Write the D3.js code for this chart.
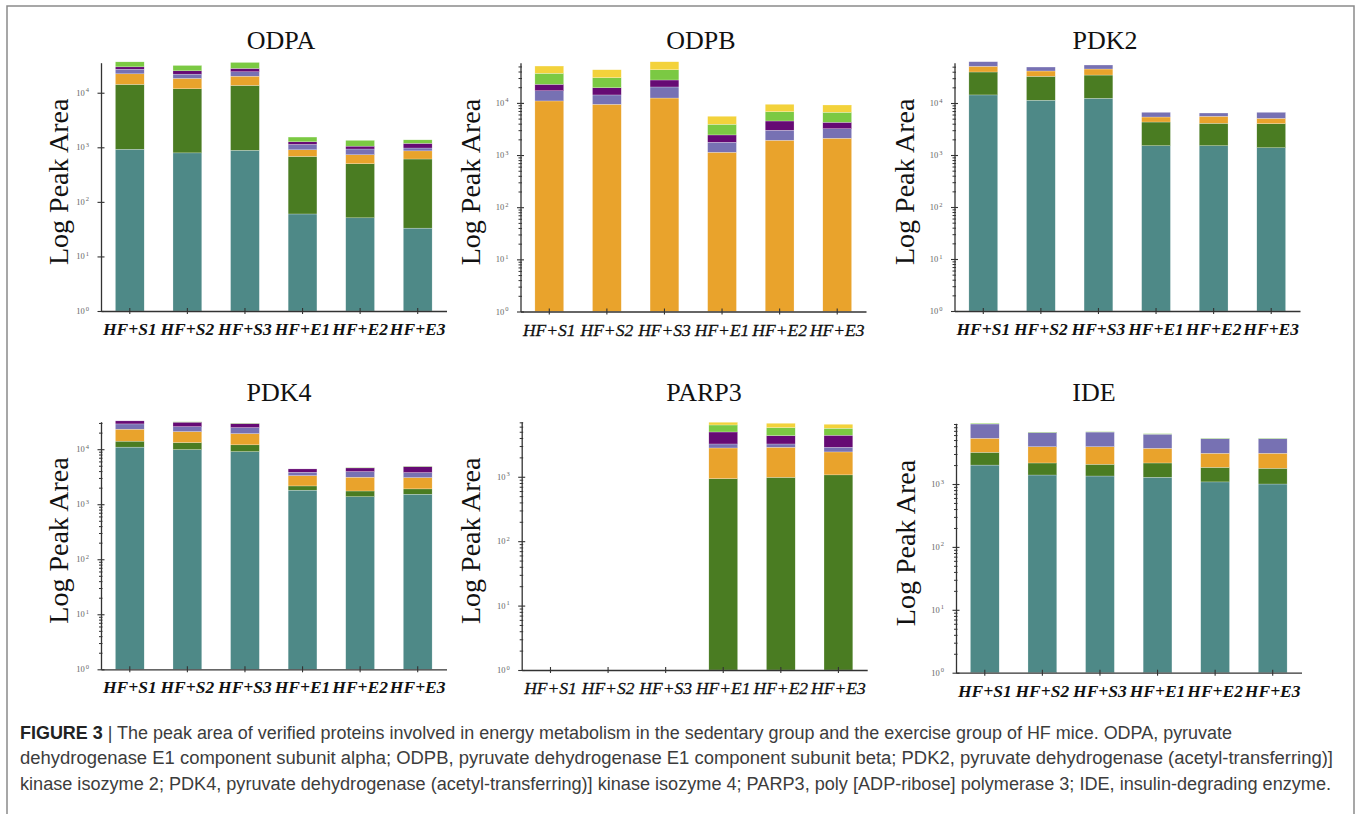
<!DOCTYPE html>
<html>
<head>
<meta charset="utf-8">
<script src="https://cdn.jsdelivr.net/npm/d3@7"></script>
<style>
  body { margin: 0; background: #fff; }
  svg { display: block; }
</style>
</head>
<body>
<svg id="chart" width="1357" height="814"></svg>
<script>
// groups on the x axis
const groups = ["HF+S1", "HF+S2", "HF+S3", "HF+E1", "HF+E2", "HF+E3"];
// stacked series, bottom to top
const seriesKeys = ["teal", "green", "orange", "lavender", "purple", "lightGreen", "yellow"];
const seriesColors = ["#4e8987", "#4a7c22", "#e9a32c", "#7771b3", "#660a74", "#7bc943", "#f3d23b"];
const proteins = ["ODPA", "ODPB", "PDK2", "PDK4", "PARP3", "IDE"];
// top of each y axis
const yMax = [35500, 59000, 59600, 31600, 7160, 9230];
const yTicks = [1, 10, 100, 1000, 10000];

// peak area per segment: [series][group]
const odpaValues = [
    [920, 790, 880, 60, 51, 33],
    [13280, 11010, 12720, 620, 449, 577],
    [8000, 6500, 6500, 220, 230, 250],
    [4800, 3600, 4100, 230, 200, 110],
    [2800, 3300, 3700, 130, 120, 210],
    [7000, 6400, 8000, 280, 290, 190],
    [0, 0, 0, 0, 0, 0]
];
const odpbValues = [
    [0, 0, 0, 0, 0, 0],
    [0, 0, 0, 0, 0, 0],
    [10900, 9400, 12400, 1130, 1920, 2100],
    [6200, 4800, 7800, 630, 1070, 1100],
    [5600, 5300, 7300, 670, 1510, 1050],
    [14200, 10900, 15700, 1460, 2280, 2360],
    [14000, 12800, 18300, 1650, 2620, 2510]
];
const pdk2Values = [
    [14300, 11300, 12300, 1510, 1510, 1380],
    [25200, 21300, 22200, 2800, 2560, 2630],
    [11300, 8700, 10600, 1070, 1480, 1060],
    [11500, 7900, 8700, 1240, 870, 1550],
    [0, 0, 0, 0, 0, 0],
    [0, 0, 0, 0, 0, 0],
    [0, 0, 0, 0, 0, 0]
];
const pdk4Values = [
    [10900, 9840, 9040, 1800, 1370, 1520],
    [3100, 3360, 2960, 350, 370, 380],
    [9100, 7700, 7200, 1160, 1360, 1150],
    [5700, 4800, 5500, 510, 820, 710],
    [3900, 5300, 4500, 560, 650, 1070],
    [0, 500, 500, 0, 80, 80],
    [0, 0, 0, 0, 0, 0]
];
const parp3Values = [
    [0, 0, 0, 0, 0, 0],
    [0, 0, 0, 935, 980, 1070],
    [0, 0, 0, 1865, 1890, 1360],
    [0, 0, 0, 430, 360, 440],
    [0, 0, 0, 1730, 1120, 1540],
    [0, 0, 0, 1410, 1440, 1250],
    [0, 0, 0, 650, 980, 870]
];
const ideValues = [
    [2000, 1390, 1340, 1280, 1080, 1000],
    [1190, 770, 720, 880, 760, 780],
    [2140, 1760, 1860, 1530, 1240, 1300],
    [3670, 2680, 2780, 2510, 2170, 2170],
    [0, 0, 0, 0, 0, 0],
    [230, 110, 90, 110, 80, 80],
    [0, 0, 0, 0, 0, 0]
];
const allValues = [odpaValues, odpbValues, pdk2Values, pdk4Values, parp3Values, ideValues];

const captionLines = [
    "The peak area of verified proteins involved in energy metabolism in the sedentary group and the exercise group of HF mice. ODPA, pyruvate",
    "dehydrogenase E1 component subunit alpha; ODPB, pyruvate dehydrogenase E1 component subunit beta; PDK2, pyruvate dehydrogenase (acetyl-transferring)]",
    "kinase isozyme 2; PDK4, pyruvate dehydrogenase (acetyl-transferring)] kinase isozyme 4; PARP3, poly [ADP-ribose] polymerase 3; IDE, insulin-degrading enzyme."
];

// panel layout
const layout = [
    {x0: 101,   top: 62.7,  bottom: 311,   titleX: 281,  titleY: 49,  labelX: 68,  minor: false, boldX: true},
    {x0: 520.5, top: 62.7,  bottom: 311.5, titleX: 701,  titleY: 49,  labelX: 480, minor: true,  boldX: false},
    {x0: 954.5, top: 62.7,  bottom: 311,   titleX: 1105, titleY: 49,  labelX: 914, minor: true,  boldX: true},
    {x0: 101,   top: 421.7, bottom: 669.3, titleX: 279,  titleY: 401, labelX: 68,  minor: true,  boldX: true},
    {x0: 521.7, top: 421.7, bottom: 670,   titleX: 704,  titleY: 401, labelX: 480, minor: true,  boldX: false},
    {x0: 956,   top: 423.3, bottom: 672.7, titleX: 1094, titleY: 401, labelX: 915, minor: true,  boldX: true}
];
const plotW = 345.5;
const serif = "'Liberation Serif', 'Times New Roman', Times, 'DejaVu Serif', serif";

const svg = d3.select("#chart");

// figure frame
svg.append("rect")
    .attr("x", 7).attr("y", 6)
    .attr("width", 1347).attr("height", 830)
    .attr("fill", "none")
    .attr("stroke", "#8a8a8a")
    .attr("stroke-width", 1.5);

const stack = d3.stack().keys(seriesKeys);

proteins.forEach((name, p) => {
    const L = layout[p];
    const vals = allValues[p];
    const g = svg.append("g");

    const x = d3.scaleBand().domain(groups).range([L.x0, L.x0 + plotW]).paddingInner(0.5).paddingOuter(0.25);
    const y = d3.scaleLog().domain([1, yMax[p]]).range([L.bottom, L.top]);

    const rows = groups.map((grp, i) => {
        const r = {group: grp};
        seriesKeys.forEach((k, s) => r[k] = vals[s][i]);
        return r;
    });
    const layers = stack(rows);

    // bars
    g.selectAll("g.layer")
        .data(layers)
        .join("g")
        .attr("class", "layer")
        .attr("fill", (d, i) => seriesColors[i])
        .selectAll("rect")
        .data(d => d.filter(e => e[1] - e[0] > 0))
        .join("rect")
        .attr("x", d => x(d.data.group))
        .attr("width", x.bandwidth())
        .attr("y", d => y(d[1]))
        .attr("height", d => y(Math.max(d[0], 1)) - y(d[1]))
        .attr("stroke", "#ffffff")
        .attr("stroke-width", 0.4)
        .attr("stroke-opacity", 0.6);

    // y axis, minor ticks
    if (L.minor) {
        const minors = [];
        for (let e = 0; e < 5; e++) {
            for (let m = 2; m < 10; m++) {
                const v = m * Math.pow(10, e);
                if (v <= yMax[p]) minors.push(v);
            }
        }
        const minorAxis = g.append("g")
            .attr("transform", `translate(${L.x0},0)`)
            .call(d3.axisLeft(y).tickValues(minors).tickSize(2).tickFormat(""));
        minorAxis.select(".domain").remove();
        minorAxis.selectAll(".tick line").attr("x1", 1.5).attr("stroke", "#333");
    }

    // y axis, major ticks
    const majors = yTicks.filter(v => v <= yMax[p]);
    const yAxis = g.append("g")
        .attr("transform", `translate(${L.x0},0)`)
        .call(d3.axisLeft(y).tickValues(majors).tickSizeInner(3.5).tickSizeOuter(0).tickFormat(""));
    yAxis.select(".domain").attr("stroke", "#333").attr("stroke-width", 1.3);
    yAxis.selectAll(".tick line").attr("x1", 3.5).attr("stroke", "#333").attr("stroke-width", 1.1);

    const tickLabels = g.selectAll("text.ytick")
        .data(majors)
        .join("text")
        .attr("class", "ytick")
        .attr("x", L.x0 - 12)
        .attr("y", d => y(d) + 3)
        .attr("text-anchor", "end")
        .attr("font-family", serif)
        .attr("font-size", 8.5)
        .attr("fill", "#666");
    tickLabels.append("tspan").text("10");
    tickLabels.append("tspan")
        .attr("font-size", 6.5)
        .attr("dy", -3.5)
        .attr("dx", 1)
        .text(d => Math.round(Math.log10(d)));

    // x axis
    const xAxis = g.append("g")
        .attr("transform", `translate(0,${L.bottom})`)
        .call(d3.axisBottom(x).tickSizeInner(3).tickSizeOuter(0).tickFormat(""));
    xAxis.select(".domain").attr("stroke", "#333").attr("stroke-width", 1.3);
    xAxis.selectAll(".tick line").attr("y1", -3).attr("stroke", "#333").attr("stroke-width", 1.1);

    g.selectAll("text.xlabel")
        .data(groups)
        .join("text")
        .attr("class", "xlabel")
        .attr("x", d => x(d) + x.bandwidth() / 2)
        .attr("y", L.bottom + 24)
        .attr("text-anchor", "middle")
        .attr("font-family", serif)
        .attr("font-style", "italic")
        .attr("font-weight", L.boldX ? "bold" : "normal")
        .attr("stroke", L.boldX ? "none" : "#111")
        .attr("stroke-width", 0.3)
        .attr("font-size", 17.5)
        .attr("fill", "#111")
        .text(d => d);

    // title
    g.append("text")
        .attr("x", L.titleX)
        .attr("y", L.titleY)
        .attr("text-anchor", "middle")
        .attr("font-family", serif)
        .attr("font-size", 26)
        .attr("fill", "#111")
        .text(name);

    // y label
    const midY = (L.top + L.bottom) / 2 - 5;
    g.append("text")
        .attr("transform", `translate(${L.labelX},${midY}) rotate(-90)`)
        .attr("text-anchor", "middle")
        .attr("font-family", serif)
        .attr("font-size", 28)
        .attr("fill", "#111")
        .text("Log Peak Area");
});

// caption
const capFont = "'Liberation Sans Narrow', 'Arial Narrow', 'Liberation Sans', sans-serif";
const capX = 20;
const capY = [739, 764, 790];
const capRight = [1232, 1333, 1331];

const first = svg.append("text")
    .attr("class", "caption")
    .attr("x", capX).attr("y", capY[0])
    .attr("font-family", capFont)
    .attr("font-size", 18)
    .attr("fill", "#3c3c3c");
first.append("tspan").attr("font-weight", "bold").attr("fill", "#222").text("FIGURE 3");
first.append("tspan").text(" | " + captionLines[0]);

captionLines.slice(1).forEach((line, i) => {
    svg.append("text")
        .attr("class", "caption")
        .attr("x", capX).attr("y", capY[i + 1])
        .attr("font-family", capFont)
        .attr("font-size", 18)
        .attr("fill", "#3c3c3c")
        .text(line);
});

// fit caption lines to the printed widths
svg.selectAll("text.caption").each(function(d, i) {
    const target = capRight[i] - capX;
    const w = this.getComputedTextLength();
    if (Math.abs(w - target) > 2) {
        d3.select(this).attr("textLength", target).attr("lengthAdjust", "spacingAndGlyphs");
    }
});
</script>
</body>
</html>
